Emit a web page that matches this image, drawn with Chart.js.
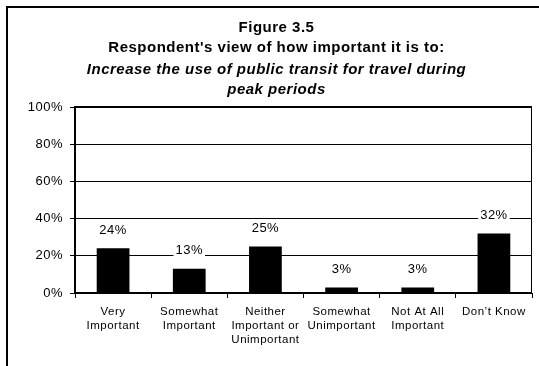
<!DOCTYPE html>
<html>
<head>
<meta charset="utf-8">
<script src="https://cdn.jsdelivr.net/npm/chart.js@4"></script>
<style>
    html, body { margin: 0; padding: 0; background: #fff; }
    #contenedor { width: 539px; height: 366px; }
</style>
</head>
<body>
<div id="contenedor"><canvas id="myChart"></canvas></div>
<script>
// Datos de la figura
const titulo = ["Figure 3.5", "Respondent's view of how important it is to:"]
const subtitulo = ["Increase the use of public transit for travel during", "peak periods"]
const categorias = [
    ["Very", "Important"],
    ["Somewhat", "Important"],
    ["Neither", "Important or", "Unimportant"],
    ["Somewhat", "Unimportant"],
    ["Not At All", "Important"],
    ["Don\u2019t Know"]
]
const porcentajes = [24, 13, 25, 3, 3, 32]
const marcasY = [0, 20, 40, 60, 80, 100]

const fuente = "'Liberation Sans', Arial, sans-serif"

// espaciado entre letras para todo el texto del canvas
const espaciado = {
    id: "espaciado",
    beforeUpdate(chart) { chart.ctx.letterSpacing = "0.5px" },
    beforeDraw(chart) { chart.ctx.letterSpacing = "0.5px" }
}

// porcentaje encima de cada barra, con fondo blanco
const etiquetas = {
    id: "etiquetas",
    afterDatasetsDraw(chart) {
        const ctx = chart.ctx
        const meta = chart.getDatasetMeta(0)
        ctx.save()
        ctx.font = "13px " + fuente
        ctx.textAlign = "center"
        ctx.textBaseline = "middle"
        meta.data.forEach((barra, i) => {
            const texto = porcentajes[i] + "%"
            const y = barra.y - 18
            const ancho = ctx.measureText(texto).width
            ctx.fillStyle = "#fff"
            ctx.fillRect(barra.x - ancho / 2 - 2, y - 7, ancho + 4, 14)
            ctx.fillStyle = "#000"
            ctx.fillText(texto, barra.x, y)
        })
        ctx.restore()
    }
}

// borde del area de trazado y contorno exterior
const marcos = {
    id: "marcos",
    afterDraw(chart) {
        const ctx = chart.ctx
        const a = chart.chartArea
        ctx.save()
        ctx.strokeStyle = "#000"
        ctx.lineWidth = 1
        const x1 = Math.round(a.left) - 0.5, x2 = Math.round(a.right) - 0.5
        const y1 = Math.round(a.top) - 0.5, y2 = Math.round(a.bottom) - 0.5
        ctx.strokeRect(x1, y1, x2 - x1, y2 - y1)
        ctx.lineWidth = 2
        ctx.beginPath()
        ctx.moveTo(7, chart.height)
        ctx.lineTo(7, 7)
        ctx.lineTo(chart.width, 7)
        ctx.stroke()
        ctx.restore()
    }
}

function cargarGrafica() {
    const grafica = document.getElementById("myChart").getContext("2d")

    new Chart(grafica, {
        type: "bar",
        data: {
            labels: categorias,
            datasets: [
                {
                    data: porcentajes,
                    backgroundColor: "#000",
                    borderWidth: 0,
                    barPercentage: 0.43,
                    categoryPercentage: 1
                }
            ]
        },
        plugins: [espaciado, etiquetas, marcos],
        options: {
            responsive: true,
            maintainAspectRatio: false,
            animation: false,
            layout: { padding: { left: 14, right: 0, top: 0, bottom: 0 } },
            plugins: {
                legend: { display: false },
                tooltip: { enabled: false },
                title: {
                    display: true,
                    text: titulo,
                    color: "#000",
                    font: { family: fuente, size: 15, weight: "bold", lineHeight: "20px" },
                    padding: { top: 18, bottom: 2 }
                },
                subtitle: {
                    display: true,
                    text: subtitulo,
                    color: "#000",
                    font: { family: fuente, size: 15, weight: "bold", style: "italic", lineHeight: "20px" },
                    padding: { top: 0, bottom: 7 }
                }
            },
            scales: {
                x: {
                    offset: true,
                    grid: { offset: true, drawOnChartArea: false, drawTicks: true, tickLength: 5, color: "#000" },
                    border: { color: "#000" },
                    ticks: {
                        color: "#000",
                        autoSkip: false,
                        maxRotation: 0,
                        padding: 7,
                        font: { family: fuente, size: 11.5, lineHeight: "14px" }
                    },
                    afterFit(escala) { escala.height = 73 }
                },
                y: {
                    min: 0,
                    max: 100,
                    grid: { color: "#000", tickLength: 5 },
                    border: { color: "#000" },
                    ticks: {
                        color: "#000",
                        padding: 7,
                        font: { family: fuente, size: 13 },
                        callback: valor => valor + "%"
                    },
                    afterBuildTicks(escala) { escala.ticks = marcasY.map(v => ({ value: v })) },
                    afterFit(escala) { escala.width = 61 }
                },
                derecha: {
                    type: "linear",
                    position: "right",
                    display: true,
                    grid: { display: false },
                    border: { display: false },
                    ticks: { display: false },
                    afterFit(escala) { escala.width = 7 }
                }
            }
        }
    })
}

cargarGrafica()
</script>
</body>
</html>
